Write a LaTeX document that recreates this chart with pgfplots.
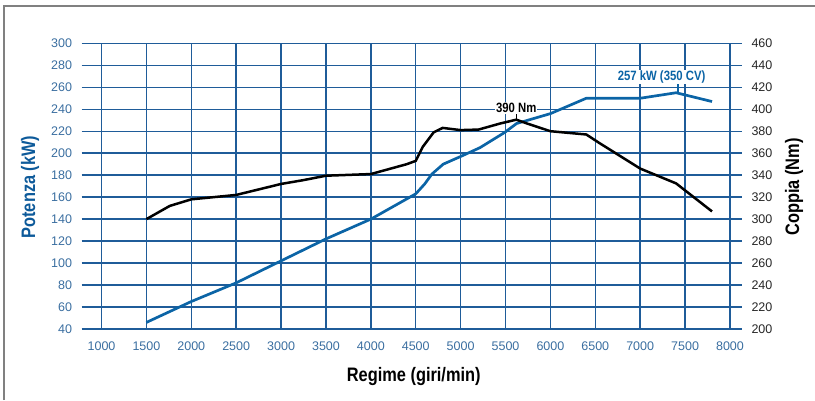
\documentclass[border=0pt]{standalone}
\usepackage{pgfplots}
\pgfplotsset{compat=1.18}
\usepackage{fontspec}
\setmainfont{Liberation Sans}
\newfontfamily\cond[FakeStretch=0.84]{Liberation Sans}
\definecolor{gridblue}{HTML}{1F5C99}
\definecolor{curveblue}{HTML}{0B64A6}
\definecolor{ticktxt}{HTML}{3A6EA0}
\definecolor{labelblue}{HTML}{0D5A9A}
\definecolor{framegray}{HTML}{808080}

\pgfplotsset{
  motor/.style={
    at={(81.5pt,71pt)}, anchor=south west,
    scale only axis, width=660.5pt, height=285.7pt,
    xmin=777, xmax=8134,
    axis line style={draw=none}, tick style={draw=none}, major tick length=0pt,
    /pgf/number format/assume math mode=true,
    /pgf/number format/set thousands separator={},
    scaled ticks=false,
    ticklabel style={font=\fontsize{12.5}{14}\selectfont},
  }
}

\begin{document}
\begin{tikzpicture}[x=1pt,y=1pt]
\useasboundingbox (0,0) rectangle (815,400);
\draw[framegray, line width=2pt] (4,0) -- (4,394) -- (815,394);

% potenza (kW), asse sinistro
\begin{axis}[motor,
  ymin=40, ymax=300,
  xtick={1000,1500,...,8000}, ytick={40,60,...,300},
  grid=major, grid style={gridblue, line width=1.4pt},
  xticklabel style={text=ticktxt, yshift=-9pt},
  yticklabel style={text=ticktxt, xshift=-6pt},
  xlabel={\cond\bfseries Regime (giri/min)},
  xlabel style={at={(rel axis cs:0.503,-0.1645)}, anchor=center, font=\fontsize{19.5}{21}\selectfont},
  ylabel={\cond\bfseries Potenza (kW)},
  ylabel style={at={(rel axis cs:-0.078,0.497)}, anchor=center, text=labelblue, font=\fontsize{19.5}{21}\selectfont},
]
\addplot[curveblue, line width=2.7pt] coordinates {
  (1500,46) (2000,65) (2500,82) (3000,102) (3500,122) (4000,140)
  (4500,163) (4600,172) (4680,181) (4806,190) (5000,197) (5215,205)
  (5493,219) (5623,227) (6000,236) (6400,250) (7000,250) (7400,255) (7800,247)
};
\draw[curveblue, line width=1.3pt] (axis cs:7420,262.7) -- (axis cs:7420,255);
\node[text=curveblue, font=\cond\bfseries\fontsize{13.5}{15}\selectfont, fill=white, inner sep=1pt]
  at (axis cs:7238,269.4) {257 kW (350 CV)};
\end{axis}

% coppia (Nm), asse destro
\begin{axis}[motor,
  ymin=200, ymax=460,
  axis x line=none, axis y line*=right,
  ytick={200,220,...,460},
  yticklabel style={text=black!85, xshift=6pt},
  ylabel={\cond\bfseries Coppia (Nm)},
  ylabel style={at={(rel axis cs:1.0787,0.497)}, anchor=center, rotate=0, font=\fontsize{19.5}{21}\selectfont},
]
\addplot[black, line width=2.5pt] coordinates {
  (1500,300) (1760,312) (2000,318) (2500,322) (3000,332) (3250,335.5)
  (3500,339.5) (4000,341) (4400,350) (4500,353) (4580,366) (4700,379)
  (4800,383) (5000,381) (5200,381.5) (5440,387) (5620,390.5) (5740,387)
  (6000,380) (6400,377) (6550,369) (7000,346) (7400,332.5) (7800,307)
};
\draw[black, line width=1.3pt] (axis cs:5620,396.4) -- (axis cs:5620,391);
\node[font=\cond\bfseries\fontsize{13.5}{15}\selectfont, fill=white, inner sep=1pt]
  at (axis cs:5620,401.2) {390 Nm};
\end{axis}
\end{tikzpicture}
\end{document}
